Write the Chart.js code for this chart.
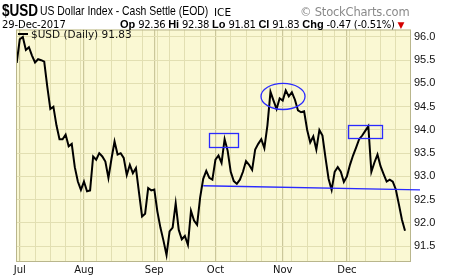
<!DOCTYPE html>
<html>
<head>
<meta charset="utf-8">
<script src="https://cdn.jsdelivr.net/npm/chart.js@4/dist/chart.umd.min.js"></script>
<style>
  html, body { margin: 0; padding: 0; background: #fff; }
  #wrap { position: relative; width: 450px; height: 278px; overflow: hidden; }
  canvas { position: absolute; left: 0; top: 0; }
  .hdr { position: absolute; white-space: nowrap; color: #000; }
  #sym { left: 2px; top: 1px; font: bold 16.5px "Liberation Sans Narrow", "Liberation Sans", Arial, sans-serif; transform-origin: 0 0; }
  #name { left: 40px; top: 4px; font: 12.7px "Liberation Sans Narrow", "Liberation Sans", Arial, sans-serif; transform-origin: 0 0; }
  #exch { left: 214px; top: 6px; font: 10.5px "DejaVu Sans", Verdana, sans-serif; }
  #copy { left: 300px; top: 5px; font: 11.5px "DejaVu Sans", Verdana, sans-serif; color: #8a8a8a; letter-spacing: -0.2px; }
  #date { left: 2px; top: 19px; font: 10px "DejaVu Sans", Verdana, sans-serif; letter-spacing: -0.1px; }
  #ohlc { left: 120px; top: 18px; font: 10px "DejaVu Sans", Verdana, sans-serif; letter-spacing: -0.3px; }
  #ohlc b { font: bold 11px "Liberation Sans", Arial, sans-serif; letter-spacing: 0; }
  #ohlc .dn { color: #d40000; font-size: 9px; }
  #legend { position: absolute; left: 18px; top: 28px; font: 10.5px "DejaVu Sans", Verdana, sans-serif; color: #111; white-space: nowrap; }
  #legend .mk { display: inline-block; width: 10px; height: 2px; background: #000; vertical-align: middle; margin-right: 3px; position: relative; top: -1px; }
</style>
</head>
<body>
<div id="wrap">
  <canvas id="c" width="450" height="278"></canvas>
  <div class="hdr" id="sym">$USD</div>
  <div class="hdr" id="name">US Dollar Index - Cash Settle (EOD)</div>
  <div class="hdr" id="exch">ICE</div>
  <div class="hdr" id="copy">© StockCharts.com</div>
  <div class="hdr" id="date">29-Dec-2017</div>
  <div class="hdr" id="ohlc"><b>Op</b> 92.36 <b>Hi</b> 92.38 <b>Lo</b> 91.81 <b>Cl</b> 91.83 <b>Chg</b> -0.47 (-0.51%) <span class="dn">▼</span></div>
  <div id="legend"><span class="mk"></span><span id="legendText"></span></div>
</div>
<script>
// ---- data (daily closes) ----
const startDate = '2017-06-30';
const endDate = '2017-12-29';
const holidays = ['2017-09-04', '2017-11-23', '2017-12-25'];
const closes = [
  95.44, 95.95, 96.00, 95.72, 95.78, 95.60, 95.45, 95.52, 95.50, 95.47,
  94.93, 94.45, 94.50, 94.10, 93.80, 93.80, 93.90, 93.65, 93.70, 93.20,
  92.89, 92.71, 92.89, 92.68, 92.70, 93.43, 93.36, 93.50, 93.43, 93.32,
  92.97, 93.38, 93.75, 93.47, 93.50, 93.40, 93.03, 93.25, 93.07, 93.18,
  92.65, 92.14, 92.20, 92.75, 92.70, 92.72, 92.25, 91.90, 91.62, 91.31,
  91.82, 91.90, 92.42, 91.85, 91.65, 91.72, 91.53, 92.26, 92.05, 91.96,
  92.55, 92.95, 93.12, 92.97, 92.93, 93.36, 93.45, 93.29, 93.80, 93.55,
  93.10, 92.90, 92.84, 92.93, 93.10, 93.33, 93.25, 93.14, 93.58, 93.70,
  93.80, 93.61, 94.10, 94.82, 94.63, 94.45, 94.68, 94.63, 94.85, 94.72,
  94.81, 94.65, 94.42, 94.38, 94.40, 94.00, 93.73, 93.86, 93.58, 94.00,
  93.88, 93.40, 92.95, 92.71, 93.10, 93.20, 93.10, 92.88, 93.00, 93.25,
  93.45, 93.62, 93.80, 93.88, 93.98, 94.08, 93.10, 93.30, 93.47, 93.22,
  93.05, 92.89, 92.93, 92.89, 92.72, 92.40, 92.07, 91.83
];
const seriesLabel = '$USD (Daily) 91.83';
const monthNames = ['Jan','Feb','Mar','Apr','May','Jun','Jul','Aug','Sep','Oct','Nov','Dec'];
const yTicks = [91.5, 92.0, 92.5, 93.0, 93.5, 94.0, 94.5, 95.0, 95.5, 96.0];

// ---- annotations (in data units: x = trading-day index, y = index value) ----
const trendX = [61.0, 131.9];
const trendY = [92.80, 92.71];
const box1X = [63.0, 72.5], box1Y = [93.63, 93.94];
const box2X = [108.5, 119.7], box2Y = [93.83, 94.10];
const ellipseCX = 87.1, ellipseRX = 7.2, ellipseCY = 94.72, ellipseRY = 0.28;

document.getElementById('legendText').textContent = seriesLabel;

// narrow-font fallback: if Liberation Sans Narrow is missing, squeeze Liberation Sans
(function () {
  const cv = document.createElement('canvas').getContext('2d');
  cv.font = '20px "Liberation Sans Narrow", monospace';
  const w1 = cv.measureText('US Dollar Index').width;
  cv.font = '20px monospace';
  const w2 = cv.measureText('US Dollar Index').width;
  if (Math.abs(w1 - w2) < 0.5) {
    ['sym', 'name'].forEach(id => {
      const el = document.getElementById(id);
      el.style.fontFamily = '"Liberation Sans", Arial, sans-serif';
      el.style.transform = 'scaleX(0.82)';
    });
  }
})();

// ---- trading-day calendar ----
const dates = [];
(function () {
  const d = new Date(startDate + 'T00:00:00Z');
  const end = new Date(endDate + 'T00:00:00Z');
  while (d <= end) {
    const iso = d.toISOString().slice(0, 10);
    const wd = d.getUTCDay();
    if (wd !== 0 && wd !== 6 && holidays.indexOf(iso) < 0) dates.push(iso);
    d.setUTCDate(d.getUTCDate() + 1);
  }
})();
const weekStarts = [], monthStarts = {};
for (let i = 1; i < dates.length; i++) {
  const a = new Date(dates[i - 1] + 'T00:00:00Z'), b = new Date(dates[i] + 'T00:00:00Z');
  if (b.getUTCDay() <= a.getUTCDay()) weekStarts.push(i);
  if (b.getUTCMonth() !== a.getUTCMonth()) { monthStarts[i] = monthNames[b.getUTCMonth()]; if (weekStarts.indexOf(i) < 0) weekStarts.push(i); }
}
weekStarts.sort((a, b) => a - b);

const points = closes.map((v, i) => ({ x: i, y: v }));

const BG = '#faf8d3';
const GRID = '#e2dfb2';
const MONTH_GRID = '#cbc79a';
const BLUE = '#2a2aff';

const decor = {
  id: 'decor',
  beforeDraw(chart) {
    const { ctx, chartArea: a } = chart;
    ctx.save();
    ctx.fillStyle = BG;
    ctx.fillRect(a.left, a.top, a.right - a.left, a.bottom - a.top);
    ctx.restore();
  },
  afterDatasetsDraw(chart) {
    const { ctx, chartArea: a, scales: { x, y } } = chart;
    ctx.save();
    ctx.strokeStyle = '#b9b68c';
    ctx.lineWidth = 1;
    ctx.strokeRect(a.left + 0.5, a.top + 0.5, a.right - a.left - 1, a.bottom - a.top - 1);
    ctx.strokeStyle = BLUE;
    ctx.lineWidth = 1.3;
    ctx.beginPath();
    ctx.moveTo(x.getPixelForValue(trendX[0]), y.getPixelForValue(trendY[0]));
    ctx.lineTo(x.getPixelForValue(trendX[1]), y.getPixelForValue(trendY[1]));
    ctx.stroke();
    [[box1X, box1Y], [box2X, box2Y]].forEach(([bx, by]) => {
      const x0 = x.getPixelForValue(bx[0]), x1 = x.getPixelForValue(bx[1]);
      const y0 = y.getPixelForValue(by[1]), y1 = y.getPixelForValue(by[0]);
      ctx.strokeRect(Math.round(x0) + 0.5, Math.round(y0) + 0.5, Math.round(x1 - x0), Math.round(y1 - y0));
    });
    const cx = x.getPixelForValue(ellipseCX);
    const rx = x.getPixelForValue(ellipseCX + ellipseRX) - cx;
    const cy = y.getPixelForValue(ellipseCY);
    const ry = y.getPixelForValue(ellipseCY - ellipseRY) - cy;
    ctx.beginPath();
    ctx.ellipse(cx, cy, rx, ry, 0, 0, Math.PI * 2);
    ctx.stroke();
    ctx.restore();
  }
};

new Chart(document.getElementById('c'), {
  type: 'line',
  data: {
    datasets: [{
      label: seriesLabel,
      data: points,
      borderColor: '#000',
      backgroundColor: '#000',
      borderWidth: 2,
      pointRadius: 0,
      tension: 0
    }]
  },
  options: {
    responsive: false,
    animation: false,
    events: [],
    layout: { padding: { left: 16, top: 29.5, right: 0, bottom: 0 } },
    scales: {
      x: {
        type: 'linear',
        min: -0.23,
        max: 128.96,
        afterBuildTicks(scale) { scale.ticks = weekStarts.map(v => ({ value: v })); },
        afterFit(scale) { scale.height = 16; },
        ticks: {
          autoSkip: false,
          maxRotation: 0,
          padding: 2,
          color: '#111',
          font: { family: 'DejaVu Sans', size: 10 },
          callback: (v) => monthStarts[v] || ''
        },
        grid: {
          drawTicks: false,
          color: (c) => (c.tick && monthStarts[c.tick.value]) ? MONTH_GRID : GRID,
          lineWidth: (c) => (c.tick && monthStarts[c.tick.value]) ? 1.2 : 1
        },
        border: { display: false }
      },
      y: {
        position: 'right',
        min: 91.16,
        max: 96.16,
        afterBuildTicks(scale) { scale.ticks = yTicks.map(v => ({ value: v })); },
        afterFit(scale) { scale.width = 39; },
        ticks: {
          padding: 3,
          color: '#111',
          font: { family: 'Liberation Sans', size: 11 },
          callback: (v) => Number(v).toFixed(1)
        },
        grid: { drawTicks: false, color: GRID, lineWidth: 1 },
        border: { display: false }
      }
    },
    plugins: {
      legend: { display: false },
      tooltip: { enabled: false }
    }
  },
  plugins: [decor]
});
</script>
</body>
</html>
